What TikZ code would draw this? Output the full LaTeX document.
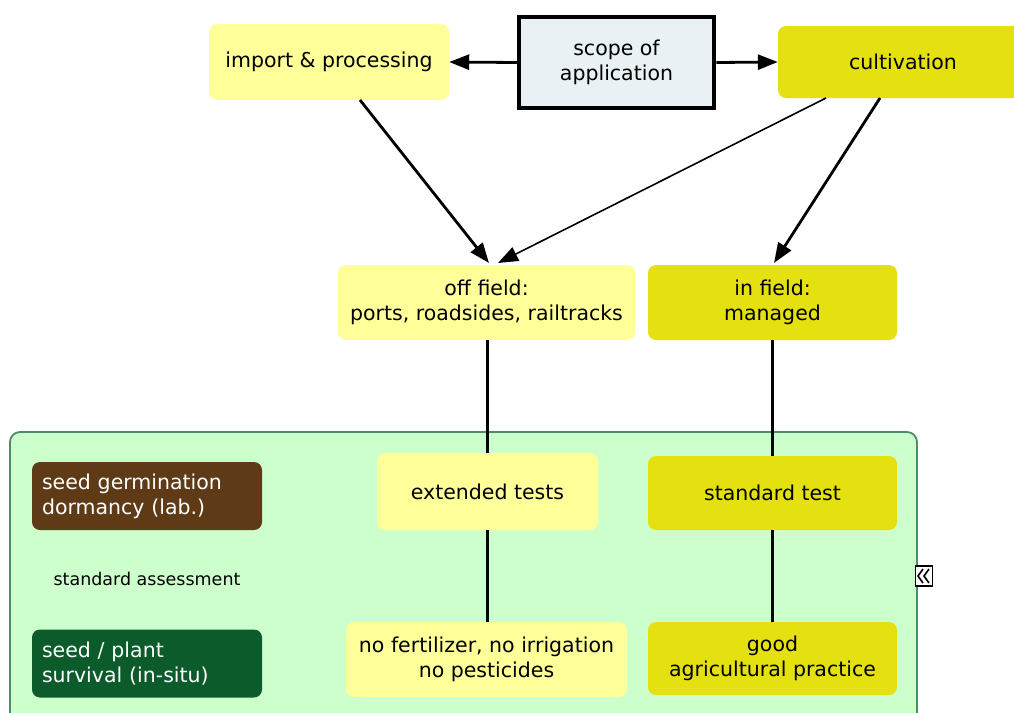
\documentclass[tikz,border=0pt]{standalone}
\usepackage{fontspec}
\setmainfont{DejaVu Sans}
\usetikzlibrary{arrows.meta}
\definecolor{lightyel}{HTML}{FFFF99}
\definecolor{darkyel}{HTML}{E5E010}
\definecolor{panelgreen}{HTML}{CCFFCC}
\definecolor{panelborder}{HTML}{4D8C6B}
\definecolor{scopefill}{HTML}{E9F1F5}
\definecolor{brownbox}{HTML}{5E3A17}
\definecolor{greenbox}{HTML}{0B5B2B}
\tikzset{
  box/.style={rounded corners=8pt, draw=none, align=center, inner sep=2pt,
    font=\fontsize{20.5}{25}\selectfont, text=black},
  lbox/.style={box, fill=lightyel},
  dbox/.style={box, fill=darkyel},
  sidebox/.style={box, align=left, text=white, minimum width=230pt, minimum height=68pt, text width=210pt},
  arr/.style={draw=black, line width=2.8pt, -{Triangle[length=20pt,width=15pt]}},
  thinarr/.style={draw=black, line width=1.6pt, -{Triangle[length=20pt,width=15pt]}},
  conn/.style={draw=black, line width=2.8pt},
}
\begin{document}
\begin{tikzpicture}[x=1pt,y=1pt]
\useasboundingbox (0,0) rectangle (1014,-712);
\clip (0,0) rectangle (1014,-712);
% panel
\draw[fill=panelgreen, draw=panelborder, line width=1.8pt, rounded corners=10pt] (10,-432) rectangle (917,-740);
% top nodes
\node[lbox, minimum width=240pt, minimum height=76pt] (imp) at (329,-62) {import \& processing};
\node[box, fill=scopefill, draw=black, line width=4.5pt, rounded corners=0pt, minimum width=195pt, minimum height=91pt] (scope) at (616.5,-62.5) {scope of\\application};
\node[dbox, minimum width=250pt, minimum height=72pt] (cult) at (903,-62) {cultivation};
% middle
\node[lbox, minimum width=297pt, minimum height=75pt] (off) at (486.5,-302.5) {off field:\\ports, roadsides, railtracks};
\node[dbox, minimum width=249pt, minimum height=75pt] (inf) at (772.5,-302.5) {in field:\\managed};
% panel contents
\node[lbox, minimum width=221pt, minimum height=77pt] (ext) at (487.5,-491.5) {extended tests};
\node[dbox, minimum width=249pt, minimum height=74pt] (std) at (772.5,-493) {standard test};
\node[lbox, minimum width=281pt, minimum height=75pt] (nof) at (486.5,-659.5) {no fertilizer, no irrigation\\no pesticides};
\node[dbox, minimum width=249pt, minimum height=73pt] (gap) at (772.5,-658.5) {good\\agricultural practice};
\node[sidebox, fill=brownbox] (germ) at (147,-496) {seed germination\\dormancy (lab.)};
\node[sidebox, fill=greenbox] (surv) at (147,-663.5) {seed / plant\\survival (in-situ)};
\node[font=\fontsize{17.5}{21}\selectfont, text=black] (assess) at (147,-579) {standard assessment};
% collapse icon
\node[draw=black, fill=white, line width=1.6pt, minimum width=17pt, minimum height=20pt, inner sep=0pt] (icon) at (924,-576) {};
\draw[line width=1.6pt] ([xshift=-1pt,yshift=7pt]icon.center) -- ([xshift=-6pt]icon.center) -- ([xshift=-1pt,yshift=-7pt]icon.center);
\draw[line width=1.6pt] ([xshift=5pt,yshift=7pt]icon.center) -- ([xshift=0pt]icon.center) -- ([xshift=5pt,yshift=-7pt]icon.center);
% arrows
\draw[arr] (scope.west) -- (imp.east);
\draw[arr] (scope.east) -- (cult.west);
\coordinate (impb) at (360,-100);
\coordinate (offa) at (489,-263);
\coordinate (offb) at (498,-263);
\coordinate (cultb1) at (826,-98);
\coordinate (cultb2) at (880,-98);
\coordinate (infa) at (774,-263);
\draw[arr] (impb) -- (offa);
\draw[thinarr] (cultb1) -- (offb);
\draw[arr] (cultb2) -- (infa);
% connectors
\draw[conn] (off.south -| ext.north) -- (ext.north);
\draw[conn] (ext.south) -- (ext.south |- nof.north);
\draw[conn] (inf.south) -- (std.north);
\draw[conn] (std.south) -- (gap.north);
\end{tikzpicture}
\end{document}
